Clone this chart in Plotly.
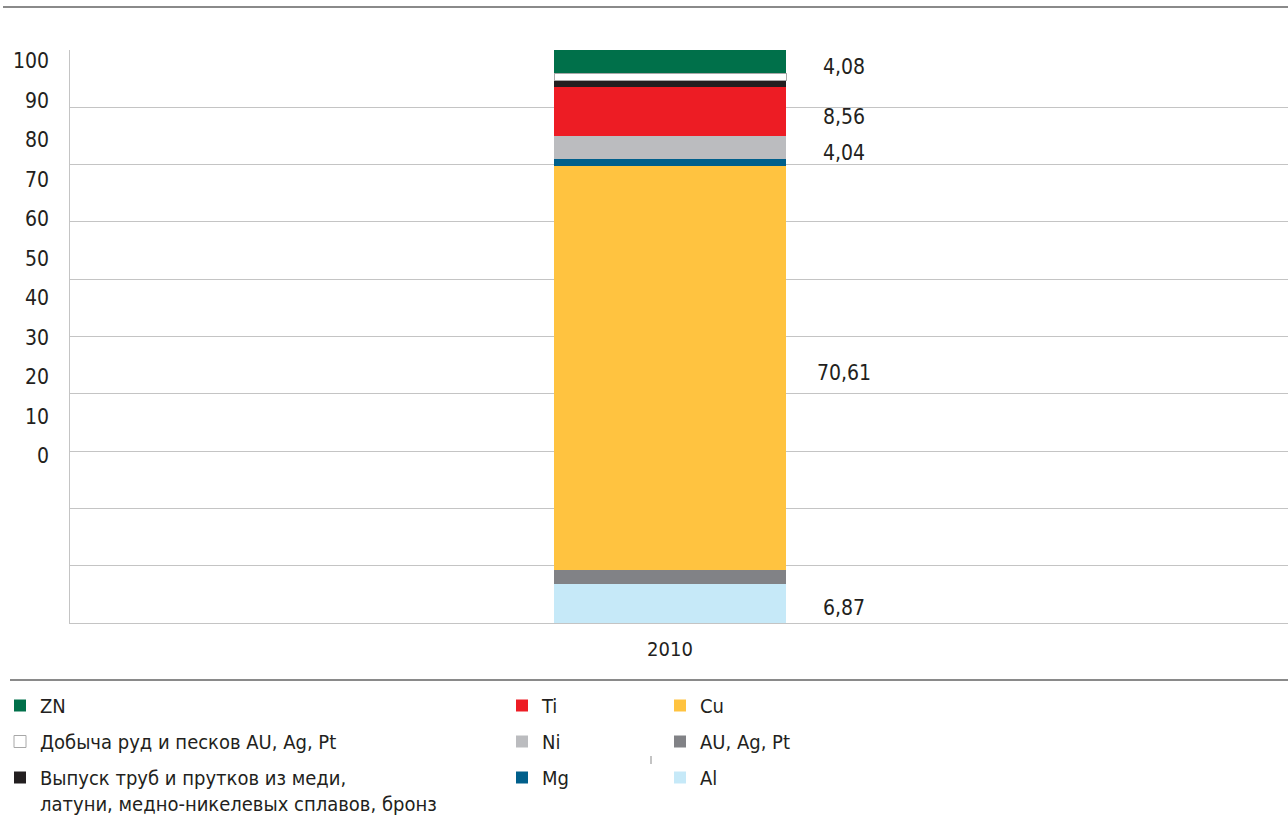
import plotly.graph_objects as go

# ---- data ----
categories = ["2010"]
series_names = [
    "Al",
    "AU, Ag, Pt",
    "Cu",
    "Mg",
    "Ni",
    "Ti",
    "Выпуск труб и прутков из меди,<br>латуни, медно-никелевых сплавов, бронз",
    "Добыча руд и песков AU, Ag, Pt",
    "ZN",
]
series_values = [6.87, 2.3, 70.61, 1.15, 4.04, 8.56, 1.09, 1.3, 4.08]
value_labels = ["6,87", "", "70,61", "", "4,04", "8,56", "", "", "4,08"]
series_colors = ["#C6E9F8", "#818286", "#FFC340", "#005F8B", "#BBBCBF",
                 "#ED1C24", "#231F20", "#FFFFFF", "#00704A"]
legend_ids = ["legend3", "legend3", "legend3", "legend2", "legend2", "legend2",
              "legend", "legend", "legend"]
y_tick_labels = ["0", "10", "20", "30", "40", "50", "60", "70", "80", "90", "100"]

FONT = "DejaVu Sans Condensed, Liberation Sans Narrow, Roboto, sans-serif"
TXT = "#231F20"

fig = go.Figure()
n = len(series_names)
for i, (name, val, col, lg) in enumerate(zip(series_names, series_values,
                                              series_colors, legend_ids)):
    is_white = col == "#FFFFFF"
    fig.add_trace(go.Bar(
        x=categories, y=[val], name=name, width=[0.4],
        marker=dict(color=col,
                    line=dict(color="#A8A8A8" if is_white else col,
                              width=1 if is_white else 0)),
        legend=lg, legendgroup=name, legendrank=100 + (n - i),
        hoverinfo="name+y",
    ))

# invisible trace to carry the (offset) tick-label axis
fig.add_trace(go.Scatter(x=categories, y=[None], yaxis="y2", showlegend=False,
                         hoverinfo="skip"))

# value labels at the middle of labelled segments
cum = 0.0
for val, lab in zip(series_values, value_labels):
    mid = cum + val / 2
    cum += val
    if lab:
        fig.add_annotation(x=0, y=mid, xref="x", yref="y", text=lab,
                           showarrow=False, xshift=174, yshift=-5,
                           font=dict(family=FONT, size=21, color=TXT))

# decorative rules
fig.add_shape(type="line", xref="paper", yref="paper",
              x0=(3 - 70) / 1218, x1=1, y0=(623 - 7) / 573, y1=(623 - 7) / 573,
              line=dict(color="#8A8A8A", width=2))
fig.add_shape(type="line", xref="paper", yref="paper",
              x0=(10 - 70) / 1218, x1=1, y0=(623 - 680) / 573, y1=(623 - 680) / 573,
              line=dict(color="#8A8A8A", width=2))
fig.add_shape(type="line", xref="paper", yref="paper",
              x0=(651 - 70) / 1218, x1=(651 - 70) / 1218,
              y0=(623 - 756) / 573, y1=(623 - 764) / 573,
              line=dict(color="#B0B0B0", width=1.5))

legend_common = dict(
    xref="container", yref="container", xanchor="left", yanchor="top",
    orientation="v", traceorder="grouped", tracegroupgap=7,
    font=dict(family=FONT, size=20, color=TXT), valign="top",
    bgcolor="rgba(0,0,0,0)", borderwidth=0,
)

fig.update_layout(
    width=1288, height=821, autosize=False,
    margin=dict(l=70, r=0, t=50, b=198, autoexpand=False),
    paper_bgcolor="white", plot_bgcolor="white",
    barmode="stack",
    font=dict(family=FONT, size=20, color=TXT),
    xaxis=dict(type="category", range=[-1.0345, 1.0655], showgrid=False,
               zeroline=False, showline=True, linecolor="#C4C4C4", linewidth=1,
               ticks="", tickfont=dict(size=20, color=TXT), ticklabelstandoff=8),
    yaxis=dict(range=[0, 100], dtick=10, showgrid=True, gridcolor="#C4C4C4",
               gridwidth=1, zeroline=False, showline=True, linecolor="#C4C4C4",
               linewidth=1, showticklabels=False, ticks=""),
    yaxis2=dict(overlaying="y", side="left",
                range=[-(623 - 456) / 3.95, (456 - 50) / 3.95],
                tickvals=[0, 10, 20, 30, 40, 50, 60, 70, 80, 90, 100],
                ticktext=y_tick_labels, showgrid=False, zeroline=False,
                showline=False, ticks="", ticklabelstandoff=20,
                tickfont=dict(size=21, color=TXT)),
    legend=dict(x=0.0, y=1 - 686 / 821, **legend_common),
    legend2=dict(x=502 / 1288, y=1 - 686 / 821, **legend_common),
    legend3=dict(x=660 / 1288, y=1 - 686 / 821, **legend_common),
)

fig.write_html("out.html")
